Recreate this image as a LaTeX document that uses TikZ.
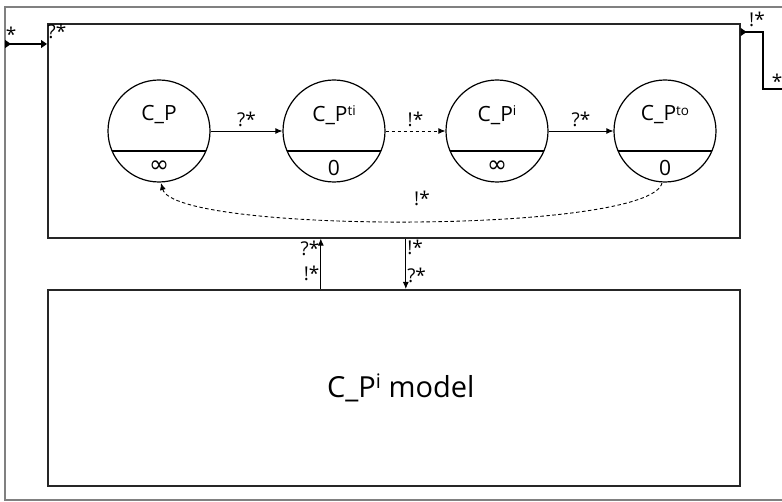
\documentclass[tikz,border=0pt]{standalone}
\usepackage{fontspec}
\setmainfont{Open Sans}
\newfontfamily\symfont{DejaVu Sans}
\usepackage{tikz}
\usetikzlibrary{arrows.meta,calc}
% raised index of a place name
\newcommand\upidx[2][5.5pt]{\raisebox{#1}{\fontsize{13.5}{13.5}\selectfont #2}}

\begin{document}
\begin{tikzpicture}[x=1pt,y=-1pt,
  frame/.style={draw=black!85,line width=1.6pt,minimum width=692pt},
  place/.style={circle,draw,line width=1.2pt,minimum size=102pt,inner sep=0pt},
  arrow/.style={-{Latex[length=7pt,width=6pt]},line width=0.9pt},
  port/.style={{Triangle[reversed,length=6pt,width=8pt]}-{Triangle[length=6pt,width=8pt]},line width=1.2pt},
  lbl/.style={font=\fontsize{19}{19}\selectfont,inner sep=1pt},
  placetext/.style={font=\fontsize{21}{21}\selectfont,inner sep=0pt}
]
\useasboundingbox (0,0) rectangle (782,502);
% enclosing block, cut off at the right
\draw[draw=black!50,line width=1.7pt] (783,7) -- (5,7) -- (5,500) -- (783,500);

\node[frame,minimum height=214pt,anchor=north west] (net) at (47,23) {};
\node[frame,minimum height=196pt,anchor=north west] (model) at (47,289) {};
\node[font=\fontsize{29}{29}\selectfont] at ($(model)+(7,0)$) {C\_P\upidx[8.5pt]{\fontsize{20}{20}\selectfont i} model};

% places
\node[place] (cp) at (159,131) {};
\node[place] (cpti) at (334,131) {};
\node[place] (cpi) at (497,131) {};
\node[place] (cpto) at (665,131) {};
\foreach \n in {cp,cpti,cpi,cpto}
  \draw[line width=1.2pt] ($(\n)+(-47,20)$) -- ++(94,0);

\node[placetext] at ($(cp)+(0,-16)$) {C\_P};
\node[placetext] at ($(cpti)+(0,-16)$) {C\_P\upidx{ti}};
\node[placetext] at ($(cpi)+(0,-16)$) {C\_P\upidx{i}};
\node[placetext] at ($(cpto)+(0,-16)$) {C\_P\upidx{to}};
\node[placetext,font=\fontsize{24}{24}\selectfont] at ($(cp)+(0,36)$) {\symfont ∞};
\node[placetext] at ($(cpti)+(0,37)$) {0};
\node[placetext,font=\fontsize{24}{24}\selectfont] at ($(cpi)+(0,36)$) {\symfont ∞};
\node[placetext] at ($(cpto)+(0,37)$) {0};

% transitions
\draw[arrow] (cp) -- node[lbl,above=3pt] {?*} (cpti);
\draw[arrow,dash pattern=on 3.5pt off 2.5pt] (cpti) -- node[lbl,above=3pt] {!*} (cpi);
\draw[arrow] (cpi) -- node[lbl,above=3pt] {?*} (cpto);
\draw[arrow,dash pattern=on 3.5pt off 2.5pt] ($(cpto)+(-3,52)$) .. controls (650,234) and (175,234) .. ($(cp)+(2,52)$);
\node[lbl] at (422,198) {!*};

% ports of the outer block
\coordinate (in) at (5,44);
\coordinate (out) at (783,89);
\draw[port] (in) -- (net.west |- in);
\node[lbl] at (11,34) {*};
\node[lbl] at (57,31) {?*};
\draw[{Triangle[reversed,length=6pt,width=8pt]}-,line width=1.2pt] ($(net.north east)+(0,9)$) -| (763,60) |- (out);
\node[lbl] at (757,19) {!*};
\node[lbl] at (777,81) {*};

% links to the model
\draw[arrow] ([xshift=-73pt]model.north) -- node[lbl,pos=0.3,left] {!*} node[lbl,pos=0.8,left] {?*} ([xshift=-73pt]net.south);
\draw[arrow] ([xshift=12pt]net.south) -- node[lbl,pos=0.18,right] {!*} node[lbl,pos=0.74,right] {?*} ([xshift=12pt]model.north);
\end{tikzpicture}
\end{document}
